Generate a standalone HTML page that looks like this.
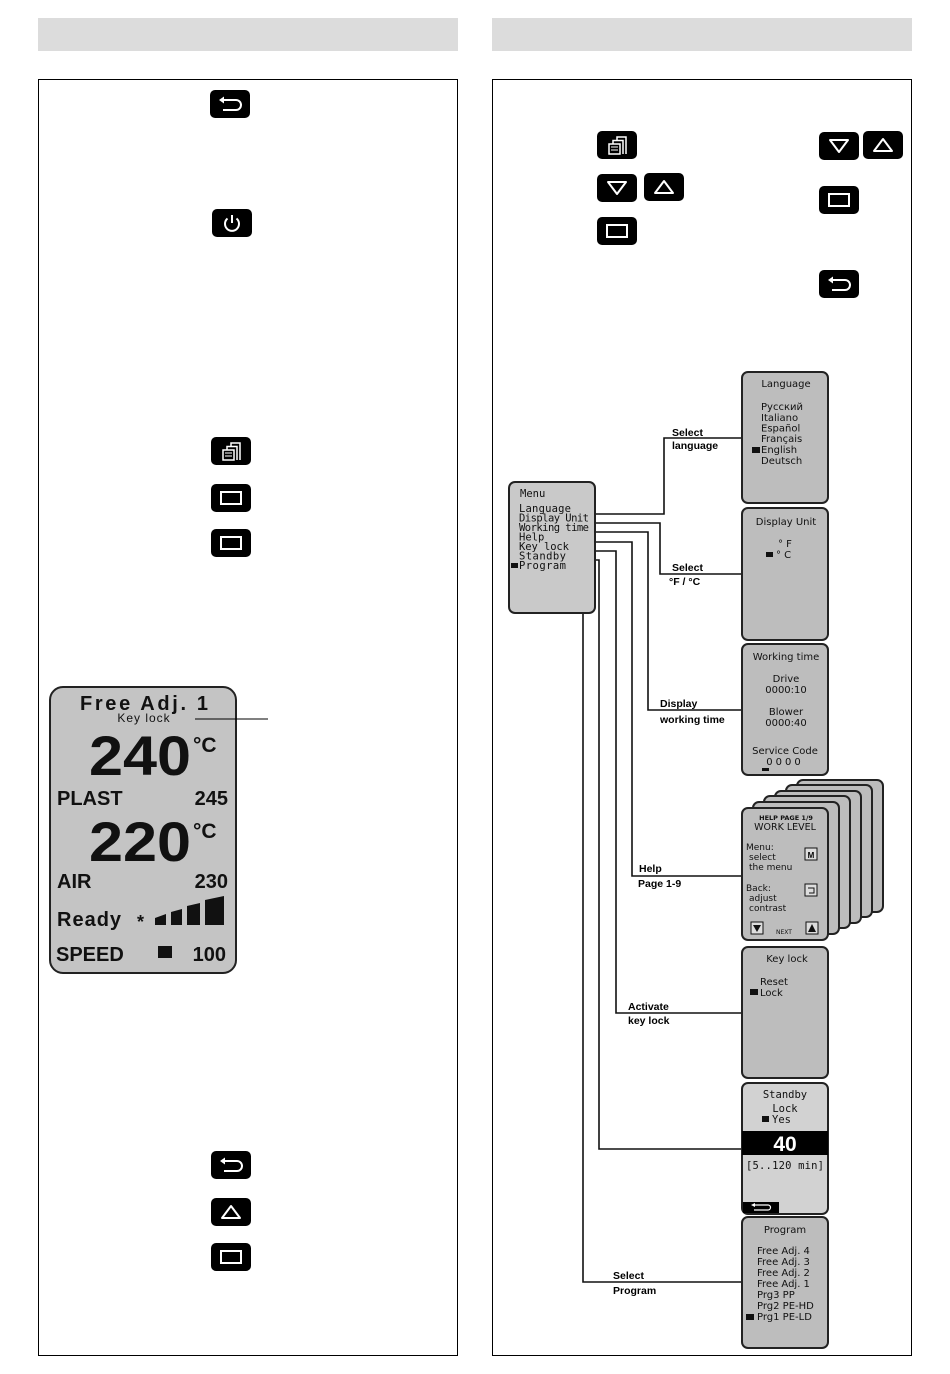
<!DOCTYPE html>
<html><head><meta charset="utf-8"><style>
html,body{margin:0;padding:0;background:#fff;}
svg{display:block;}
.lb{font-family:"Liberation Sans",sans-serif;font-weight:bold;font-size:10.5px;fill:#000;}
.sc{font-family:"DejaVu Sans",sans-serif;font-size:10px;fill:#111;}
.mn{font-family:"DejaVu Sans Mono",monospace;font-size:10.5px;fill:#111;}
.big{font-family:"Liberation Sans",sans-serif;font-weight:bold;fill:#111;}
</style></head><body>
<svg width="950" height="1374" viewBox="0 0 950 1374" xmlns="http://www.w3.org/2000/svg">
<defs>
<g id="ib"><rect x="0" y="0" width="40" height="28" rx="5" fill="#000"/></g>
<g id="irect"><use href="#ib"/><rect x="10" y="8" width="20" height="12" fill="none" stroke="#fff" stroke-width="2"/></g>
<g id="iup"><use href="#ib"/><polygon points="11,20 29,20 20,8" fill="none" stroke="#fff" stroke-width="2" stroke-linejoin="round"/></g>
<g id="idn"><use href="#ib"/><polygon points="11,8 29,8 20,20" fill="none" stroke="#fff" stroke-width="2" stroke-linejoin="round"/></g>
<g id="iback"><use href="#ib"/><path d="M13 10 H26 A5 5 0 0 1 26 20 H13" fill="none" stroke="#fff" stroke-width="2"/><polygon points="9,10 14,6.5 14,13.5" fill="#fff"/></g>
<g id="ipow"><use href="#ib"/><path d="M15.5 9.5 A7 7 0 1 0 24.5 9.5" fill="none" stroke="#fff" stroke-width="2"/><line x1="20" y1="6" x2="20" y2="14" stroke="#fff" stroke-width="2"/></g>
<g id="imenu"><use href="#ib"/><rect x="12" y="13" width="11" height="10" fill="none" stroke="#fff" stroke-width="1.5"/><line x1="14" y1="16" x2="21" y2="16" stroke="#fff"/><line x1="14" y1="19" x2="21" y2="19" stroke="#fff"/><path d="M16 13 V9.5 H26 V23" fill="none" stroke="#fff" stroke-width="1.5"/><path d="M20 9.5 V6 H29 V23" fill="none" stroke="#fff" stroke-width="1.5"/></g>
</defs>

<rect x="38" y="18" width="420" height="33" fill="#dcdcdc"/>
<rect x="492" y="18" width="420" height="33" fill="#dcdcdc"/>
<rect x="38.5" y="79.5" width="419" height="1276" fill="none" stroke="#000" stroke-width="1"/>
<rect x="492.5" y="79.5" width="419" height="1276" fill="none" stroke="#000" stroke-width="1"/>

<use href="#iback" x="210" y="90"/>
<use href="#ipow" x="212" y="209"/>
<use href="#imenu" x="211" y="437"/>
<use href="#irect" x="211" y="484"/>
<use href="#irect" x="211" y="529"/>
<use href="#iback" x="211" y="1151"/>
<use href="#iup" x="211" y="1198"/>
<use href="#irect" x="211" y="1243"/>

<rect x="50" y="687" width="186" height="286" rx="13" fill="#c4c4c4" stroke="#222" stroke-width="2"/>
<line x1="195" y1="719" x2="268" y2="719" stroke="#000" stroke-width="1"/>
<text x="80" y="710" class="big" font-size="20" textLength="128" lengthAdjust="spacing">Free Adj. 1</text>
<text x="144" y="722" text-anchor="middle" font-family="Liberation Sans,sans-serif" font-size="12" letter-spacing="1" fill="#111">Key lock</text>
<text x="89" y="775" class="big" font-size="56" textLength="102" lengthAdjust="spacingAndGlyphs">240</text>
<text x="193" y="752" class="big" font-size="21">°C</text>
<text x="57" y="805" class="big" font-size="20">PLAST</text>
<text x="228" y="805" text-anchor="end" class="big" font-size="20">245</text>
<text x="89" y="861" class="big" font-size="56" textLength="102" lengthAdjust="spacingAndGlyphs">220</text>
<text x="193" y="838" class="big" font-size="21">°C</text>
<text x="57" y="888" class="big" font-size="20">AIR</text>
<text x="228" y="888" text-anchor="end" class="big" font-size="20">230</text>
<text x="57" y="926" class="big" font-size="20" letter-spacing="1">Ready</text>
<text x="137" y="928" class="big" font-size="18">*</text>
<polygon points="155,925 166,925 166,914 155,918" fill="#111"/>
<polygon points="171,925 182,925 182,909 171,912" fill="#111"/>
<polygon points="187,925 200,925 200,903 187,906" fill="#111"/>
<polygon points="205,925 224,925 224,896 205,900" fill="#111"/>
<text x="56" y="961" class="big" font-size="20">SPEED</text>
<rect x="158" y="946" width="14" height="12" fill="#111"/>
<text x="226" y="961" text-anchor="end" class="big" font-size="20">100</text>

<use href="#imenu" x="597" y="131"/>
<use href="#idn" x="597" y="174"/>
<use href="#iup" x="644" y="173"/>
<use href="#irect" x="597" y="217"/>
<use href="#idn" x="819" y="132"/>
<use href="#iup" x="863" y="131"/>
<use href="#irect" x="819" y="186"/>
<use href="#iback" x="819" y="270"/>

<g fill="none" stroke="#111" stroke-width="1.6">
<polyline points="595,514 664,514 664,438 742,438"/>
<polyline points="595,523 660,523 660,574 742,574"/>
<polyline points="595,532 648,532 648,710 742,710"/>
<polyline points="595,542 632,542 632,876 742,876"/>
<polyline points="595,551 616,551 616,1013 742,1013"/>
<polyline points="595,560 599,560 599,1149 742,1149"/>
<polyline points="583,613 583,1282 742,1282"/>
</g>
<text x="672" y="436" class="lb">Select</text>
<text x="672" y="449" class="lb">language</text>
<text x="672" y="571" class="lb">Select</text>
<text x="669" y="585" class="lb">°F / °C</text>
<text x="660" y="707" class="lb">Display</text>
<text x="660" y="723" class="lb">working time</text>
<text x="639" y="872" class="lb">Help</text>
<text x="638" y="887" class="lb">Page 1-9</text>
<text x="628" y="1010" class="lb">Activate</text>
<text x="628" y="1024" class="lb">key lock</text>
<text x="613" y="1279" class="lb">Select</text>
<text x="613" y="1294" class="lb">Program</text>

<rect x="509" y="482" width="86" height="131" rx="6" fill="#c9c9c9" stroke="#222" stroke-width="2"/>
<g class="mn">
<text x="520" y="497">Menu</text>
<text x="519" y="512" textLength="52">Language</text>
<text x="519" y="521.5" textLength="70">Display Unit</text>
<text x="519" y="531" textLength="70">Working time</text>
<text x="519" y="540.5">Help</text>
<text x="519" y="550" textLength="50">Key lock</text>
<text x="519" y="559.5" textLength="47">Standby</text>
<text x="519" y="569" textLength="47">Program</text>
</g>
<rect x="511" y="563" width="7" height="5" fill="#111"/>

<g fill="#bdbdbd" stroke="#222" stroke-width="2">
<rect x="742" y="372" width="86" height="131" rx="6"/>
<rect x="742" y="508" width="86" height="132" rx="6"/>
<rect x="742" y="644" width="86" height="131" rx="6"/>
<rect x="797" y="780" width="86" height="132" rx="6"/>
<rect x="786" y="785" width="86" height="132" rx="6"/>
<rect x="775" y="791" width="86" height="132" rx="6"/>
<rect x="764" y="796" width="86" height="132" rx="6"/>
<rect x="753" y="802" width="86" height="132" rx="6"/>
<rect x="742" y="808" width="86" height="132" rx="6"/>
<rect x="742" y="947" width="86" height="131" rx="6"/>
<rect x="742" y="1083" width="86" height="131" rx="6" fill="#d2d2d2"/>
<rect x="742" y="1217" width="86" height="131" rx="6"/>
</g>
<g class="sc">
<text x="786" y="387" text-anchor="middle">Language</text>
<text x="761" y="410">Русский</text>
<text x="761" y="421">Italiano</text>
<text x="761" y="431.5">Español</text>
<text x="761" y="442">Français</text>
<text x="761" y="453">English</text>
<text x="761" y="464">Deutsch</text>
<text x="786" y="525" text-anchor="middle">Display Unit</text>
<text x="778" y="547">° F</text>
<text x="776" y="558">° C</text>
<text x="786" y="660" text-anchor="middle">Working time</text>
<text x="786" y="682" text-anchor="middle">Drive</text>
<text x="786" y="693" text-anchor="middle">0000:10</text>
<text x="786" y="715" text-anchor="middle">Blower</text>
<text x="786" y="726" text-anchor="middle">0000:40</text>
<text x="785" y="754" text-anchor="middle">Service Code</text>
<text x="785" y="765" text-anchor="middle" letter-spacing="3">0000</text>
<text x="786" y="820" text-anchor="middle" font-size="6.5" font-weight="bold">HELP PAGE 1/9</text>
<text x="785" y="830" text-anchor="middle" font-size="9.5">WORK LEVEL</text>
<text x="746" y="850" font-size="9">Menu:</text>
<text x="749" y="860" font-size="9">select</text>
<text x="749" y="870" font-size="9">the menu</text>
<text x="746" y="891" font-size="9">Back:</text>
<text x="749" y="901" font-size="9">adjust</text>
<text x="749" y="911" font-size="9">contrast</text>
<text x="776" y="934" font-size="6">NEXT</text>
<text x="787" y="962" text-anchor="middle">Key lock</text>
<text x="760" y="985">Reset</text>
<text x="760" y="996">Lock</text>
<text x="785" y="1233" text-anchor="middle">Program</text>
<text x="757" y="1254">Free Adj. 4</text>
<text x="757" y="1265">Free Adj. 3</text>
<text x="757" y="1276">Free Adj. 2</text>
<text x="757" y="1287">Free Adj. 1</text>
<text x="757" y="1298">Prg3 PP</text>
<text x="757" y="1309">Prg2 PE-HD</text>
<text x="757" y="1320">Prg1 PE-LD</text>
</g>
<g class="mn">
<text x="785" y="1098" text-anchor="middle">Standby</text>
<text x="785" y="1112" text-anchor="middle">Lock</text>
<text x="772" y="1123">Yes</text>
<text x="785" y="1169" text-anchor="middle" textLength="78">[5..120 min]</text>
</g>
<rect x="742" y="1131" width="86" height="24" fill="#000"/>
<text x="785" y="1151" text-anchor="middle" class="big" font-size="21" style="fill:#fff">40</text>
<rect x="743" y="1202" width="36" height="11" fill="#000"/>
<path d="M754 1205 H768 A2.5 2.5 0 0 1 768 1210 H754" fill="none" stroke="#fff" stroke-width="1.2"/>
<polygon points="751,1205 755,1203 755,1207" fill="#fff"/>
<rect x="752" y="447" width="8" height="6" fill="#111"/>
<rect x="766" y="552" width="7" height="5" fill="#111"/>
<rect x="762" y="768" width="7" height="3" fill="#111"/>
<rect x="750" y="989" width="8" height="6" fill="#111"/>
<rect x="762" y="1116" width="7" height="6" fill="#111"/>
<rect x="746" y="1314" width="8" height="6" fill="#111"/>
<rect x="805" y="848" width="12" height="12" fill="#ddd" stroke="#111"/>
<text x="811" y="858" text-anchor="middle" font-family="Liberation Sans,sans-serif" font-size="8" font-weight="bold">M</text>
<rect x="805" y="884" width="12" height="12" fill="#ddd" stroke="#111"/>
<path d="M808 888 H814 V893 H809" fill="none" stroke="#111"/>
<rect x="751" y="922" width="12" height="12" fill="#ddd" stroke="#111"/>
<polygon points="753,925 761,925 757,932" fill="#111"/>
<rect x="806" y="922" width="12" height="12" fill="#ddd" stroke="#111"/>
<polygon points="808,932 816,932 812,924" fill="#111"/>
</svg>
</body></html>
